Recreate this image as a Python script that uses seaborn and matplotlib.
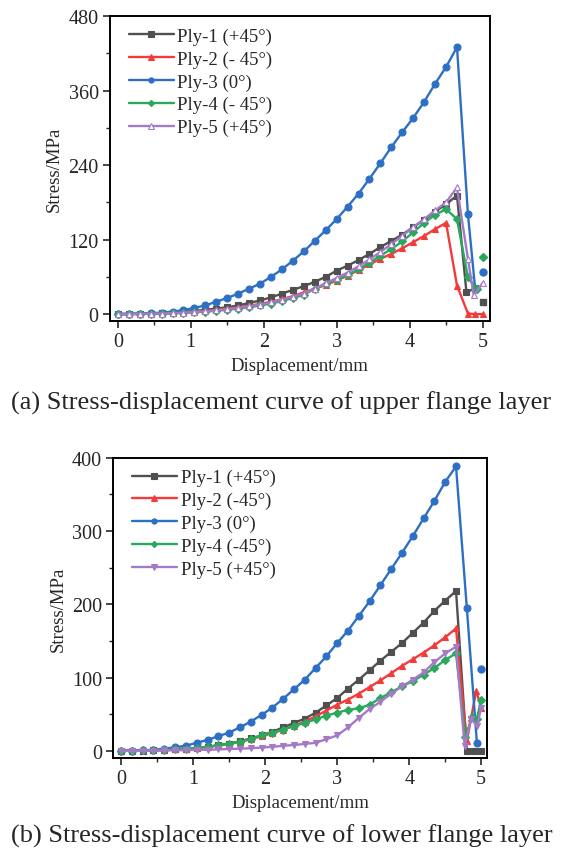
import numpy as np
import pandas as pd
import matplotlib
matplotlib.use("Agg")
import matplotlib.pyplot as plt
import seaborn as sns
from matplotlib.ticker import MultipleLocator

# displacement grid shared by the main part of every curve (mm)
disp = [0.0, 0.15, 0.3, 0.45, 0.6, 0.75, 0.9, 1.05, 1.2, 1.35, 1.5, 1.65, 1.8, 1.95,
        2.1, 2.25, 2.4, 2.55, 2.7, 2.85, 3.0, 3.15, 3.3, 3.45, 3.6, 3.75, 3.9, 4.05,
        4.2, 4.35, 4.5, 4.65]

labels_up = ['Ply-1 (+45°)', 'Ply-2 (- 45°)', 'Ply-3 (0°)', 'Ply-4 (- 45°)', 'Ply-5 (+45°)']
labels_low = ['Ply-1 (+45°)', 'Ply-2 (-45°)', 'Ply-3 (0°)', 'Ply-4 (-45°)', 'Ply-5 (+45°)']

# (a) upper flange layer, stress in MPa
up_ply1 = [0, 0.3, 0.6, 1, 1.5, 2.5, 3.5, 5, 7, 9, 11, 14, 18, 22, 27, 33, 39, 45, 52, 60,
           70, 78, 87, 97, 108, 118, 128, 140, 152, 165, 177, 191]
up_ply2 = [0, 0.3, 0.5, 0.8, 1.2, 2, 3, 4, 5.5, 7, 9, 11, 13.5, 16.5, 20, 24, 29, 35, 41, 47,
           54, 62, 71, 80, 89, 97, 106, 116, 126, 137, 147, 46]
up_ply3 = [0, 0.5, 1, 1.5, 2.5, 4, 6.5, 10, 14, 20, 26, 33, 41, 49, 60, 72, 86, 101, 118, 135,
           153, 173, 194, 218, 243, 269, 293, 316, 342, 371, 398, 430]
up_ply4 = [0, 0.2, 0.3, 0.5, 0.8, 1.3, 2, 2.8, 4, 5.5, 7, 9, 11, 14, 17, 21, 26, 31, 41, 48,
           55, 63, 72, 83, 94, 105, 117, 132, 147, 160, 169, 153]
up_ply5 = [0, 0.2, 0.4, 0.7, 1, 1.6, 2.3, 3.2, 4.5, 6, 8, 10, 12.5, 15.5, 19, 23, 28, 33, 41, 50,
           58, 67, 77, 88, 100, 113, 126, 140, 153, 167, 180, 204]
up_tail_x = [[4.78, 4.9], [4.8, 4.9, 5.0], [4.8, 4.9], [4.8, 4.92], [4.8, 4.88, 5.0]]
up_tail_y = [[35, 42], [1, 0, 0], [161, 40], [59, 40], [89, 30, 50]]
up_lone_x = [5.0, None, 5.0, 5.0, None]
up_lone_y = [19, None, 68, 92, None]

# (b) lower flange layer, stress in MPa
low_ply1 = [0, 0.2, 0.5, 0.8, 1.2, 2, 3, 4, 5.5, 7.5, 10, 13, 17, 21, 26, 32, 38, 44, 52, 62,
            72, 85, 97, 110, 123, 135, 147, 161, 175, 191, 205, 218]
low_ply2 = [0, 0.3, 0.6, 1, 1.5, 2.2, 3, 4, 5.5, 7.5, 10, 12.5, 16, 20, 24, 29, 34, 40, 47, 55,
            63, 70, 78, 87, 96, 106, 116, 125, 134, 144, 155, 167]
low_ply3 = [0, 0.3, 0.8, 1.5, 3, 5, 7, 11, 15, 20, 25, 32, 40, 49, 59, 71, 84, 97, 113, 129,
            147, 164, 184, 204, 226, 248, 270, 293, 317, 341, 367, 388]
low_ply4 = [0, 0.3, 0.6, 1, 1.5, 2, 3, 4, 5.5, 7.5, 10, 12.5, 16, 21, 25, 29, 34, 38, 43, 48,
            52, 56, 58, 63, 72, 80, 88, 95, 104, 113, 124, 133]
low_ply5 = [0, 0, 0.2, 0.4, 0.6, 0.8, 1, 1.3, 1.6, 2, 2.5, 3, 3.6, 4.5, 5.5, 7, 8, 9.5, 11, 16,
            21, 32, 45, 57, 67, 78, 88, 97, 107, 121, 133, 142]
low_tail_x = [[4.8, 4.9, 5.0], [4.8, 4.86, 4.93, 5.0], [4.8, 4.94], [4.78, 4.87, 4.94, 5.0],
              [4.77, 4.86, 4.94, 5.0]]
low_tail_y = [[0, 0, 0], [13, 45, 82, 59], [195, 11], [19, 46, 44, 70], [7, 44, 34, 59]]
low_lone_x = [None, None, 5.0, None, None]
low_lone_y = [None, None, 112, None, None]

colors = ['#505050', '#f23b3b', '#2e6fc6', '#2aa85e', '#a47ac6']
markers_up = ['s', '^', 'o', 'D', '^']
markers_low = ['s', '^', 'o', 'D', 'v']

sns.set_style("ticks")
plt.rcParams['font.family'] = ['Liberation Serif', 'DejaVu Serif']

fig = plt.figure(figsize=(5.63, 8.54), dpi=100)
ax1 = fig.add_axes([0.195, 0.623, 0.675, 0.357])
ax2 = fig.add_axes([0.201, 0.111, 0.664, 0.352])


def draw(ax, series, labels, tails_x, tails_y, lone_x, lone_y, markers, open_last):
    for i, ys in enumerate(series):
        df = pd.DataFrame({'x': disp + tails_x[i], 'y': ys + tails_y[i]})
        mfc = 'white' if (open_last and i == 4) else colors[i]
        ms = 4.2 if markers[i] == 'D' else 5
        sns.lineplot(data=df, x='x', y='y', ax=ax, color=colors[i], label=labels[i],
                     marker=markers[i], markersize=ms, markerfacecolor=mfc,
                     markeredgecolor=colors[i], markeredgewidth=0.8, linewidth=1.7,
                     sort=False, estimator=None)
        if lone_x[i] is not None:
            ax.plot([lone_x[i]], [lone_y[i]], linestyle='none', marker=markers[i],
                    markersize=ms, color=colors[i])


def style(ax, ylim, ystep, xlim):
    ax.set_xlim(*xlim)
    ax.set_ylim(*ylim)
    ax.xaxis.set_major_locator(MultipleLocator(1))
    ax.xaxis.set_minor_locator(MultipleLocator(0.5))
    ax.yaxis.set_major_locator(MultipleLocator(ystep))
    ax.yaxis.set_minor_locator(MultipleLocator(ystep / 2))
    ax.tick_params(which='major', direction='out', length=5, width=1.2, labelsize=14.5, pad=3)
    ax.tick_params(which='minor', direction='out', length=3, width=1.0)
    for sp in ax.spines.values():
        sp.set_visible(True)
        sp.set_linewidth(1.4)
        sp.set_color('black')
    ax.set_xlabel('Displacement/mm', fontsize=13.5, labelpad=4)
    ax.set_ylabel('Stress/MPa', fontsize=13.5, labelpad=4)
    ax.legend(loc='upper left', frameon=False, fontsize=13.5, handlelength=2.4,
              labelspacing=0.3, handletextpad=0.2, borderaxespad=0.2, markerscale=0.75,
              bbox_to_anchor=(0.02, 1.0))


draw(ax1, [up_ply1, up_ply2, up_ply3, up_ply4, up_ply5], labels_up,
     up_tail_x, up_tail_y, up_lone_x, up_lone_y, markers_up, True)
style(ax1, (-11, 480), 120, (-0.11, 5.1))
draw(ax2, [low_ply1, low_ply2, low_ply3, low_ply4, low_ply5], labels_low,
     low_tail_x, low_tail_y, low_lone_x, low_lone_y, markers_low, False)
style(ax2, (-10, 400), 100, (-0.11, 5.08))

fig.text(0.5, 1 - 403 / 854, '(a) Stress-displacement curve of upper flange layer',
         ha='center', va='center', fontsize=19)
fig.text(0.5, 1 - 836 / 854, '(b) Stress-displacement curve of lower flange layer',
         ha='center', va='center', fontsize=19)

fig.savefig('out.png', dpi=100, facecolor='white')
